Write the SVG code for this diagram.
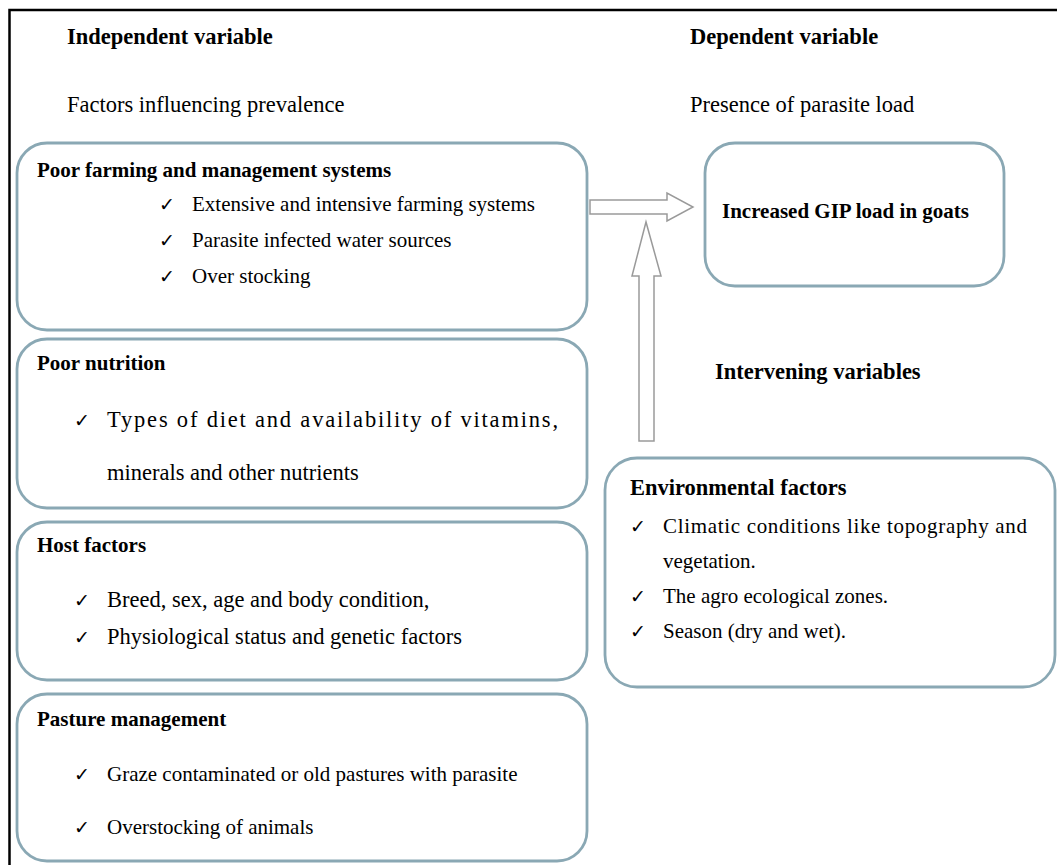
<svg xmlns="http://www.w3.org/2000/svg" width="1057" height="865" viewBox="0 0 1057 865">
<style>
text{font-family:"Liberation Serif","Times New Roman",serif;fill:#000;font-size:21px}
.b{font-weight:bold}
.l{font-size:22.5px}
.ck{font-family:"DejaVu Sans",sans-serif;font-size:19px}
.box{fill:#fff;stroke:#8aa8b4;stroke-width:2.8}
.arr{fill:#fff;stroke:#9a9a9a;stroke-width:1.5}
</style>
<rect x="0" y="0" width="1057" height="865" fill="#fff"/>
<path d="M9.5 865 V10 H1057" fill="none" stroke="#000" stroke-width="2.5"/>
<g id="headers">
<text class="b l" x="67" y="44">Independent variable</text>
<text class="l" x="67" y="112">Factors influencing prevalence</text>
<text class="b l" x="690" y="44">Dependent variable</text>
<text class="l" x="690" y="112">Presence of parasite load</text>
<text class="b l" x="715" y="379">Intervening variables</text>
</g>
<g id="connectors">
<path class="arr" d="M590 200 H667 V193 L693 207 L667 221 V214 H590 Z"/>
<path class="arr" d="M639 441 V276 H632 L646 222 L661 276 H654 V441 Z"/>
</g>
<g id="node-farming">
<rect class="box" x="17" y="143" width="570" height="187" rx="30"/>
<text class="b" x="37" y="177">Poor farming and management systems</text>
<text class="ck" x="159" y="211">✓</text><text x="192" y="211">Extensive and intensive farming systems</text>
<text class="ck" x="159" y="247">✓</text><text x="192" y="247">Parasite infected water sources</text>
<text class="ck" x="159" y="283">✓</text><text x="192" y="283">Over stocking</text>
</g>
<g id="node-nutrition">
<rect class="box" x="17" y="339" width="570" height="169" rx="30"/>
<text class="b" x="37" y="370">Poor nutrition</text>
<text class="ck" x="74" y="427">✓</text><text class="l" x="107" y="427" textLength="451" lengthAdjust="spacing">Types of diet and availability of vitamins,</text>
<text class="l" x="107" y="480">minerals and other nutrients</text>
</g>
<g id="node-host">
<rect class="box" x="17" y="522" width="570" height="158" rx="30"/>
<text class="b" x="37" y="552">Host factors</text>
<text class="ck" x="74" y="607">✓</text><text class="l" x="107" y="607">Breed, sex, age and body condition,</text>
<text class="ck" x="74" y="644">✓</text><text class="l" x="107" y="644">Physiological status and genetic factors</text>
</g>
<g id="node-pasture">
<rect class="box" x="17" y="694" width="570" height="167" rx="30"/>
<text class="b" x="37" y="726">Pasture management</text>
<text class="ck" x="74" y="781">✓</text><text x="107" y="781">Graze contaminated or old pastures with parasite</text>
<text class="ck" x="74" y="834">✓</text><text x="107" y="834">Overstocking of animals</text>
</g>
<g id="node-gip">
<rect class="box" x="705" y="143" width="299" height="143" rx="30"/>
<text class="b" x="722" y="218">Increased GIP load in goats</text>
</g>
<g id="node-env">
<rect class="box" x="605" y="458" width="450" height="229" rx="32"/>
<text class="b l" x="630" y="495">Environmental factors</text>
<text class="ck" x="630" y="533">✓</text><text x="663" y="533" textLength="364" lengthAdjust="spacing">Climatic conditions like topography and</text>
<text x="663" y="568">vegetation.</text>
<text class="ck" x="630" y="603">✓</text><text x="663" y="603">The agro ecological zones.</text>
<text class="ck" x="630" y="638">✓</text><text x="663" y="638">Season (dry and wet).</text>
</g>
</svg>
